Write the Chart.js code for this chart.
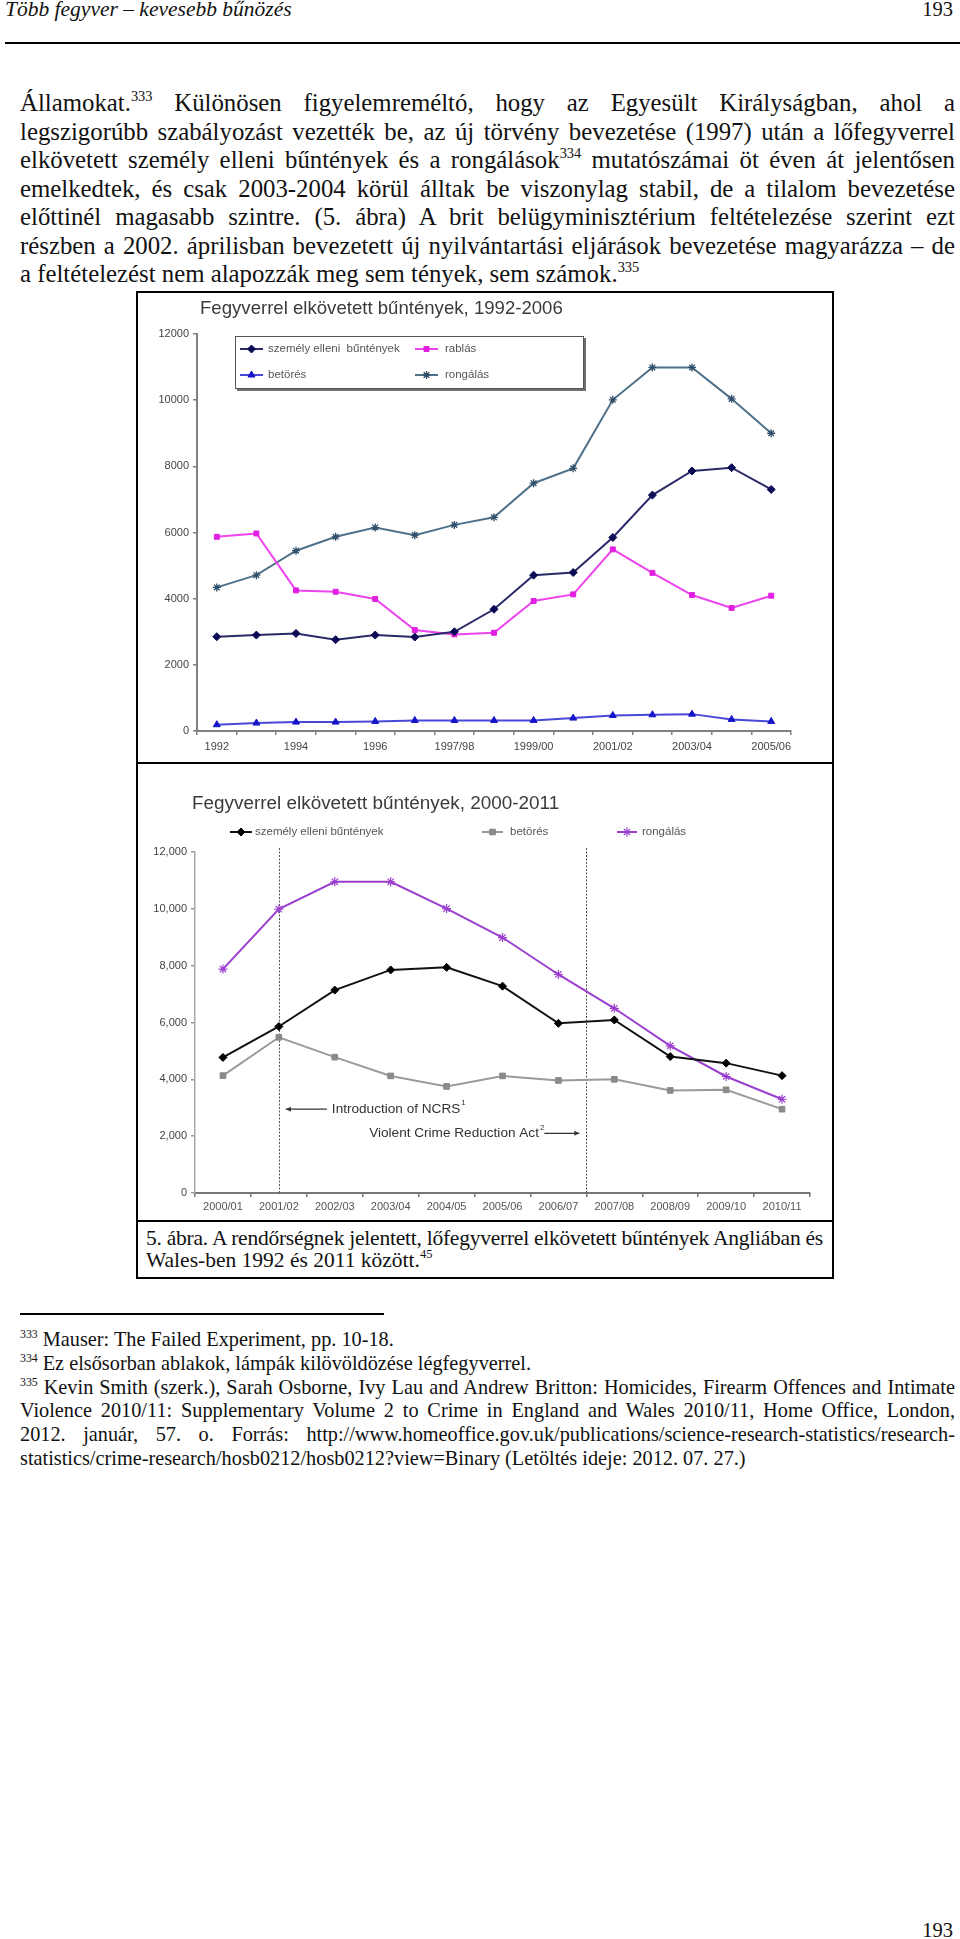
<!DOCTYPE html>
<html lang="hu">
<head>
<meta charset="utf-8">
<title>Fegyverrel elkövetett bűntények</title>
<script src="https://cdn.jsdelivr.net/npm/chart.js@4.4.1/dist/chart.umd.min.js"></script>
<style>
html,body{margin:0;padding:0;background:#fff;}
body{width:960px;height:1939px;position:relative;overflow:hidden;font-family:"Liberation Serif","Times New Roman",serif;color:#111;}
.ab{position:absolute;white-space:nowrap;}
.j{display:inline-block;}
.pl{position:absolute;left:20px;white-space:nowrap;font-size:24.8px;line-height:28px;}
.fl{position:absolute;left:20px;white-space:nowrap;font-size:20.3px;line-height:24px;}
.cl{position:absolute;left:146px;white-space:nowrap;font-size:21.5px;line-height:22px;}
sup{font-size:0.58em;vertical-align:0.7em;line-height:0;}
canvas{position:absolute;}
.rule{position:absolute;background:#000;}
</style>
</head>
<body>
<div class="ab" style="left:5px;top:-4px;font-size:21.5px;line-height:26px;font-style:italic;">Több fegyver – kevesebb bűnözés</div>
<div class="ab" style="right:7px;top:-4px;font-size:20.5px;line-height:26px;">193</div>
<div class="rule" style="left:5px;top:42px;width:955px;height:2px;"></div>

<div class="pl" style="top:89px;"><span class="j" data-w="935">Államokat.<sup>333</sup> Különösen figyelemreméltó, hogy az Egyesült Királyságban, ahol a</span></div>
<div class="pl" style="top:117.5px;"><span class="j" data-w="935">legszigorúbb szabályozást vezették be, az új törvény bevezetése (1997) után a lőfegyverrel</span></div>
<div class="pl" style="top:146px;"><span class="j" data-w="935">elkövetett személy elleni bűntények és a rongálások<sup>334</sup> mutatószámai öt éven át jelentősen</span></div>
<div class="pl" style="top:174.5px;"><span class="j" data-w="935">emelkedtek, és csak 2003-2004 körül álltak be viszonylag stabil, de a tilalom bevezetése</span></div>
<div class="pl" style="top:203px;"><span class="j" data-w="935">előttinél magasabb szintre. (5. ábra) A brit belügyminisztérium feltételezése szerint ezt</span></div>
<div class="pl" style="top:231.5px;"><span class="j" data-w="935">részben a 2002. áprilisban bevezetett új nyilvántartási eljárások bevezetése magyarázza – de</span></div>
<div class="pl" style="top:260px;"><span>a feltételezést nem alapozzák meg sem tények, sem számok.<sup>335</sup></span></div>

<!-- figure frame -->
<div class="rule" style="left:136px;top:291px;width:698px;height:2px;"></div>
<div class="rule" style="left:136px;top:1277px;width:698px;height:2px;"></div>
<div class="rule" style="left:136px;top:291px;width:2px;height:988px;"></div>
<div class="rule" style="left:832px;top:291px;width:2px;height:988px;"></div>
<div class="rule" style="left:136px;top:762px;width:698px;height:2px;"></div>
<div class="rule" style="left:136px;top:1220px;width:698px;height:2px;"></div>

<canvas id="c1" width="693" height="467" style="left:139px;top:294px;width:693px;height:467px;"></canvas>
<canvas id="c2" width="693" height="455" style="left:139px;top:765px;width:693px;height:455px;"></canvas>

<div class="cl" style="top:1227px;"><span class="j" data-w="677">5. ábra. A rendőrségnek jelentett, lőfegyverrel elkövetett bűntények Angliában és</span></div>
<div class="cl" style="top:1249px;"><span>Wales-ben 1992 és 2011 között.<sup>45</sup></span></div>

<div class="rule" style="left:20px;top:1313px;width:364px;height:1.5px;"></div>
<div class="fl" style="top:1327px;"><span><sup>333</sup> Mauser: The Failed Experiment, pp. 10-18.</span></div>
<div class="fl" style="top:1351px;"><span><sup>334</sup> Ez elsősorban ablakok, lámpák kilövöldözése légfegyverrel.</span></div>
<div class="fl" style="top:1375px;"><span class="j" data-w="935"><sup>335</sup> Kevin Smith (szerk.), Sarah Osborne, Ivy Lau and Andrew Britton: Homicides, Firearm Offences and Intimate</span></div>
<div class="fl" style="top:1398px;"><span class="j" data-w="935">Violence 2010/11: Supplementary Volume 2 to Crime in England and Wales 2010/11, Home Office, London,</span></div>
<div class="fl" style="top:1422px;"><span class="j" data-w="935">2012. január, 57. o. Forrás: http://www.homeoffice.gov.uk/publications/science-research-statistics/research-</span></div>
<div class="fl" style="top:1446px;"><span>statistics/crime-research/hosb0212/hosb0212?view=Binary (Letöltés ideje: 2012. 07. 27.)</span></div>

<div class="ab" style="right:7px;top:1917px;font-size:20.5px;line-height:26px;">193</div>

<script>
// ---------- DATA: chart 1 (1992-2006) ----------
const title1 = 'Fegyverrel elkövetett bűntények, 1992-2006';
const cats1 = ['1992','1993','1994','1995','1996','1997','1997/98','1998/99','1999/00','2000/01','2001/02','2002/03','2003/04','2004/05','2005/06'];
const shownTicks1 = ['1992','1994','1996','1997/98','1999/00','2001/02','2003/04','2005/06'];
const szemely1  = [2850,2900,2950,2760,2900,2840,3000,3680,4710,4790,5850,7130,7860,7960,7300];
const rablas1   = [5870,5970,4250,4210,3990,3050,2920,2970,3930,4130,5490,4780,4110,3720,4090];
const betores1  = [190,240,270,270,290,320,320,320,320,390,470,490,510,350,290];
const rongalas1 = [4340,4710,5450,5870,6150,5920,6230,6460,7490,7940,10010,10990,10990,10040,9000];
const names1 = ['személy elleni  bűntények','rablás','betörés','rongálás'];

// ---------- DATA: chart 2 (2000-2011) ----------
const title2 = 'Fegyverrel elkövetett bűntények, 2000-2011';
const cats2 = ['2000/01','2001/02','2002/03','2003/04','2004/05','2005/06','2006/07','2007/08','2008/09','2009/10','2010/11'];
const szemely2  = [4770,5860,7140,7850,7940,7280,5970,6090,4800,4570,4130];
const betores2  = [4130,5480,4780,4120,3750,4120,3960,4000,3610,3630,2950];
const rongalas2 = [7880,9990,10950,10950,10010,8990,7690,6500,5180,4100,3300];
const names2 = ['személy elleni bűntények','betörés','rongálás'];
// events marked by vertical lines: at category 2001/02, and between 2006/07 and 2007/08
const eventTexts = ['Introduction of NCRS','Violent Crime Reduction Act'];
const eventNotes = ['1','2'];
const eventCats = [['2001/02'],['2006/07','2007/08']];
const eventLevels = [2950, 2100];

const yTicks = [0,2000,4000,6000,8000,10000,12000];

// ---------- helpers ----------
const SANS = '"Liberation Sans", Arial, sans-serif';
function marker(ctx, style, r, x, y, fill, stroke, bw){
  ctx.save();
  ctx.fillStyle = fill; ctx.strokeStyle = stroke; ctx.lineWidth = bw;
  if (Chart.helpers && Chart.helpers.drawPoint) {
    Chart.helpers.drawPoint(ctx, {pointStyle: style, radius: r, rotation: 0, borderWidth: bw}, x, y);
  } else {
    ctx.fillRect(x-r, y-r, 2*r, 2*r);
  }
  ctx.restore();
}
function legendSample(ctx, ds, x0, x1, y){
  ctx.save();
  ctx.strokeStyle = ds.borderColor; ctx.lineWidth = ds.borderWidth;
  ctx.beginPath(); ctx.moveTo(x0, y); ctx.lineTo(x1, y); ctx.stroke();
  ctx.restore();
  marker(ctx, ds.pointStyle, ds.pointRadius, (x0+x1)/2, y, ds.pointBackgroundColor, ds.pointBorderColor, ds.pointBorderWidth);
}
function fixedWidth(w){ return s => { s.width = w; }; }
function fixedHeight(h){ return s => { s.height = h; }; }

function mkds(label, data, line, fill, stroke, style, r, bw){
  return {label, data, borderColor: line, borderWidth: 2, tension: 0,
    pointStyle: style, pointRadius: r, pointHoverRadius: r,
    pointBackgroundColor: fill, pointBorderColor: stroke, pointBorderWidth: bw, fill: false};
}

// ---------- chart 1 ----------
const decor1 = {
  id: 'decor1',
  afterDraw(chart){
    const ctx = chart.ctx;
    ctx.save();
    ctx.font = '18.6px ' + SANS;
    ctx.fillStyle = '#3b3b3b'; ctx.textBaseline = 'middle'; ctx.textAlign = 'left';
    ctx.fillText(title1, 61, 15);
    // legend box with shadow
    const bx = 96, by = 42, bw = 349, bh = 53;
    ctx.fillStyle = '#6f6f6f';
    ctx.fillRect(bx+2, by+2, bw, bh);
    ctx.fillStyle = '#fff';
    ctx.fillRect(bx, by, bw, bh);
    ctx.strokeStyle = '#555'; ctx.lineWidth = 1;
    ctx.strokeRect(bx+0.5, by+0.5, bw-1, bh-1);
    const ds = chart.data.datasets;
    const cols = [[101,124,129],[276,299,306]];
    const rows = [55, 81];
    ctx.font = '11.5px ' + SANS;
    ctx.textBaseline = 'middle';
    ds.forEach((d, i) => {
      const c = cols[i % 2], yy = rows[Math.floor(i / 2)];
      legendSample(ctx, d, c[0], c[1], yy);
      ctx.fillStyle = '#555';
      ctx.fillText(d.label, c[2], yy);
    });
    ctx.restore();
  }
};

new Chart(document.getElementById('c1'), {
  type: 'line',
  data: {
    labels: cats1,
    datasets: [
      mkds(names1[0], szemely1, '#2a2a68', '#0b0b55', '#0b0b55', 'rectRot', 4, 1),
      mkds(names1[1], rablas1, '#ee44ee', '#e020e0', '#e020e0', 'rect', 3.5, 1),
      mkds(names1[2], betores1, '#4848d8', '#1414c8', '#1414c8', 'triangle', 4, 1),
      mkds(names1[3], rongalas1, '#4f7189', '#2f4f6a', '#2f4f6a', 'star', 4, 1.3)
    ]
  },
  options: {
    responsive: false, animation: false, devicePixelRatio: 1,
    layout: {padding: {left: 0, right: 41, top: 40, bottom: 0}},
    plugins: {legend: {display: false}, title: {display: false}, tooltip: {enabled: false}},
    scales: {
      x: {
        offset: true,
        afterFit: fixedHeight(30),
        grid: {display: true, offset: true, drawOnChartArea: false, drawTicks: true, tickLength: 4, color: '#808080', lineWidth: 1.5},
        border: {display: true, color: '#808080', width: 2},
        ticks: {autoSkip: false, maxRotation: 0, padding: 5, color: '#444', font: {family: SANS, size: 11},
          callback: (v, i) => shownTicks1.includes(cats1[i]) ? cats1[i] : ''}
      },
      y: {
        min: 0, max: 12000,
        afterFit: fixedWidth(58),
        afterBuildTicks: s => { s.ticks = yTicks.map(v => ({value: v})); },
        grid: {display: true, drawOnChartArea: false, drawTicks: true, tickLength: 4, color: '#808080', lineWidth: 1.5},
        border: {display: true, color: '#808080', width: 2},
        ticks: {padding: 4, color: '#444', font: {family: SANS, size: 11}, callback: v => String(v)}
      }
    }
  },
  plugins: [decor1]
});

// ---------- chart 2 ----------
const decor2 = {
  id: 'decor2',
  beforeDatasetsDraw(chart){
    const ctx = chart.ctx, xs = chart.scales.x, ca = chart.chartArea;
    ctx.save();
    ctx.strokeStyle = '#555'; ctx.lineWidth = 1; ctx.setLineDash([2, 1.5]);
    eventCats.forEach(ec => {
      const px = ec.map(c => xs.getPixelForValue(cats2.indexOf(c)));
      const x = Math.round(px.reduce((a, b) => a + b, 0) / px.length) + 0.5;
      ctx.beginPath(); ctx.moveTo(x, ca.top - 4); ctx.lineTo(x, ca.bottom); ctx.stroke();
    });
    ctx.restore();
  },
  afterDraw(chart){
    const ctx = chart.ctx, xs = chart.scales.x, ys = chart.scales.y;
    ctx.save();
    ctx.font = '18.9px ' + SANS;
    ctx.fillStyle = '#3b3b3b'; ctx.textBaseline = 'middle'; ctx.textAlign = 'left';
    ctx.fillText(title2, 53, 39);
    // legend row
    const items = [[91,113,116],[343,364,371],[478,498,503]];
    ctx.font = '11.5px ' + SANS;
    chart.data.datasets.forEach((d, i) => {
      const it = items[i];
      legendSample(ctx, d, it[0], it[1], 67);
      ctx.fillStyle = '#555';
      ctx.fillText(d.label, it[2], 67);
    });
    // event annotations
    const evx = eventCats.map(ec => {
      const px = ec.map(c => xs.getPixelForValue(cats2.indexOf(c)));
      return px.reduce((a, b) => a + b, 0) / px.length;
    });
    const F = '13.6px ' + SANS;
    ctx.font = F;
    ctx.fillStyle = '#333'; ctx.strokeStyle = '#333'; ctx.lineWidth = 1.3;
    // first: arrow pointing left to the line, text right of arrow
    let y = ys.getPixelForValue(eventLevels[0]);
    let a0 = evx[0] + 7, a1 = evx[0] + 48;
    ctx.beginPath(); ctx.moveTo(a0, y); ctx.lineTo(a1, y); ctx.stroke();
    ctx.beginPath(); ctx.moveTo(a0, y); ctx.lineTo(a0 + 5, y - 2.5); ctx.lineTo(a0 + 5, y + 2.5); ctx.closePath(); ctx.fill();
    ctx.textAlign = 'left';
    ctx.fillText(eventTexts[0], a1 + 5, y);
    let w = ctx.measureText(eventTexts[0]).width;
    ctx.font = '8px ' + SANS;
    ctx.fillText(eventNotes[0], a1 + 5 + w + 1, y - 6);
    // second: arrow pointing right to the line, text left of arrow
    y = ys.getPixelForValue(eventLevels[1]);
    a1 = evx[1] - 7; a0 = evx[1] - 42;
    ctx.beginPath(); ctx.moveTo(a0, y); ctx.lineTo(a1, y); ctx.stroke();
    ctx.beginPath(); ctx.moveTo(a1, y); ctx.lineTo(a1 - 5, y - 2.5); ctx.lineTo(a1 - 5, y + 2.5); ctx.closePath(); ctx.fill();
    ctx.font = '8px ' + SANS;
    ctx.textAlign = 'right';
    ctx.fillText(eventNotes[1], a0, y - 6);
    const nw = ctx.measureText(eventNotes[1]).width;
    ctx.font = F;
    ctx.fillText(eventTexts[1], a0 - nw - 1, y);
    ctx.restore();
  }
};

new Chart(document.getElementById('c2'), {
  type: 'line',
  data: {
    labels: cats2,
    datasets: [
      mkds(names2[0], szemely2, '#111', '#000', '#000', 'rectRot', 4, 1),
      mkds(names2[1], betores2, '#9a9a9a', '#8a8a8a', '#8a8a8a', 'rect', 4, 1),
      mkds(names2[2], rongalas2, '#9b3fce', '#9b3fce', '#9b3fce', 'star', 4.5, 1.2)
    ]
  },
  options: {
    responsive: false, animation: false, devicePixelRatio: 1,
    layout: {padding: {left: 0, right: 22, top: 87, bottom: 0}},
    plugins: {legend: {display: false}, title: {display: false}, tooltip: {enabled: false}},
    scales: {
      x: {
        offset: true,
        afterFit: fixedHeight(27),
        grid: {display: true, offset: true, drawOnChartArea: false, drawTicks: true, tickLength: 4, color: '#777', lineWidth: 1.5},
        border: {display: true, color: '#777', width: 2},
        ticks: {autoSkip: false, maxRotation: 0, padding: 3, color: '#555', font: {family: SANS, size: 11}}
      },
      y: {
        min: 0, max: 12000,
        afterFit: fixedWidth(56),
        afterBuildTicks: s => { s.ticks = yTicks.map(v => ({value: v})); },
        grid: {display: true, drawOnChartArea: false, drawTicks: true, tickLength: 4, color: '#999', lineWidth: 1.5},
        border: {display: true, color: '#aaa', width: 1.5},
        ticks: {padding: 4, color: '#444', font: {family: SANS, size: 11}, callback: v => v.toLocaleString('en-US')}
      }
    }
  },
  plugins: [decor2]
});

// ---------- justify text lines ----------
function justifyAll(){
  document.querySelectorAll('.j').forEach(el => {
    const target = +el.dataset.w;
    const txt = el.textContent;
    const spaces = (txt.match(/ /g) || []).length;
    el.style.wordSpacing = '0px';
    el.style.letterSpacing = '0px';
    let w = el.getBoundingClientRect().width;
    if (w > target) {
      // too wide: tighten letters slightly instead of squeezing word gaps
      el.style.letterSpacing = ((target - w) / txt.length) + 'px';
      w = el.getBoundingClientRect().width;
    }
    if (spaces) el.style.wordSpacing = ((target - w) / spaces) + 'px';
  });
}
justifyAll();
if (document.fonts && document.fonts.ready) document.fonts.ready.then(justifyAll);
</script>
</body>
</html>
